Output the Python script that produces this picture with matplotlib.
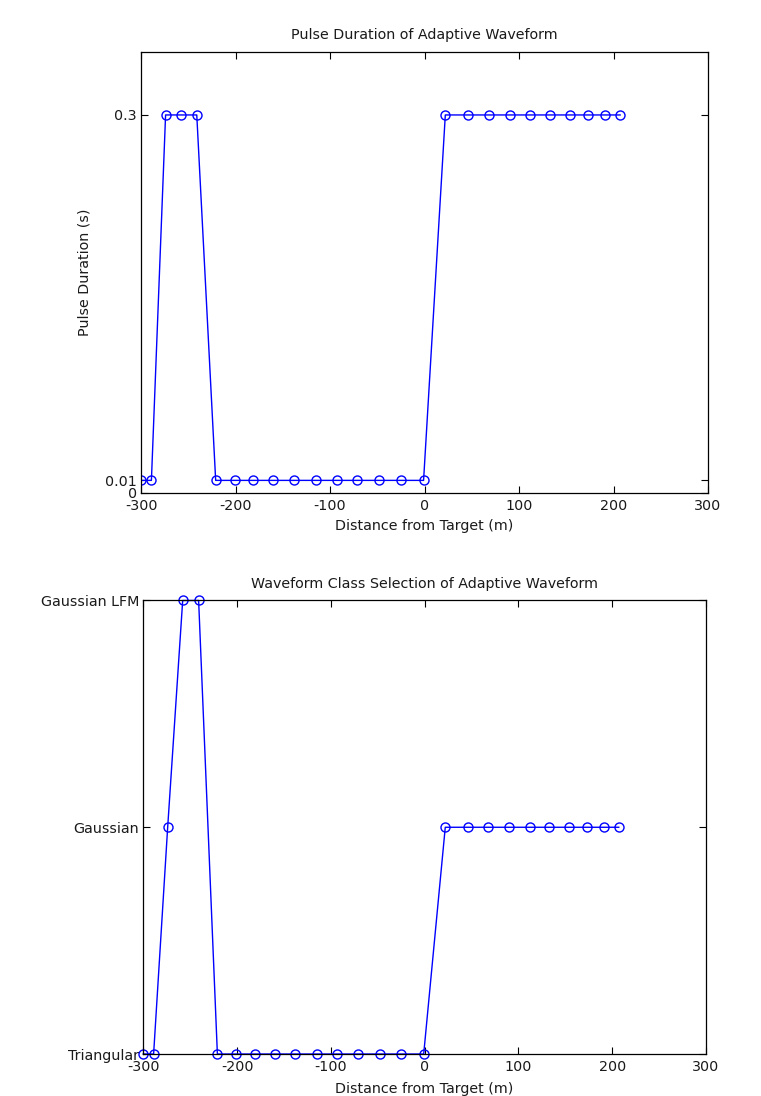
import matplotlib
matplotlib.use("Agg")
import matplotlib.pyplot as plt

plt.rcParams['font.family'] = ['DejaVu Sans']
plt.rcParams['axes.unicode_minus'] = False

# Data
distance = [-300, -289, -274, -258, -241, -221, -201, -181, -160, -138, -115,
            -93, -71, -48, -25, -1, 22, 46, 68, 90, 112, 133, 154, 173, 191, 207]
pulse_duration = [0.01, 0.01, 0.3, 0.3, 0.3, 0.01, 0.01, 0.01, 0.01, 0.01, 0.01,
                  0.01, 0.01, 0.01, 0.01, 0.01, 0.3, 0.3, 0.3, 0.3, 0.3, 0.3, 0.3, 0.3, 0.3, 0.3]
class_names = ['Triangular', 'Gaussian', 'Gaussian LFM']
waveform_class = [1, 1, 2, 3, 3, 1, 1, 1, 1, 1, 1,
                  1, 1, 1, 1, 1, 2, 2, 2, 2, 2, 2, 2, 2, 2, 2]
x_ticks = [-300, -200, -100, 0, 100, 200, 300]
pd_ticks = [0, 0.01, 0.3]
pd_ticklabels = ['0', '0.01', '0.3']

fig = plt.figure(figsize=(7.61, 10.96), dpi=100)
ax1 = fig.add_axes([0.1853, 0.5502, 0.7451, 0.4024])
ax2 = fig.add_axes([0.1883, 0.0383, 0.7394, 0.4138])

blue = (0, 0, 1)
fs = 10.3
txt = '#1a1a1a'

def style(ax):
    ax.tick_params(direction='in', top=True, right=True, length=5, width=0.8,
                   labelsize=fs, colors='black', labelcolor=txt)
    ax.tick_params(axis='x', pad=4)
    ax.tick_params(axis='y', pad=3)
    for s in ax.spines.values():
        s.set_linewidth(0.9)
        s.set_color('black')

ax1.plot(distance, pulse_duration, '-o', color=blue, lw=1.0, ms=6.5,
         mfc='none', mec=blue, mew=1.0)
ax1.set_xlim(-300, 300)
ax1.set_ylim(0, 0.35)
ax1.set_xticks(x_ticks)
ax1.set_xticklabels([str(t) for t in x_ticks])
ax1.set_yticks(pd_ticks)
ax1.set_yticklabels(pd_ticklabels)
ax1.set_xlabel('Distance from Target (m)', fontsize=fs, labelpad=5, color=txt)
ax1.set_ylabel('Pulse Duration (s)', fontsize=fs, color=txt)
ax1.yaxis.set_label_coords(-0.087, 0.5)
ax1.set_title('Pulse Duration of Adaptive Waveform', fontsize=fs, pad=9, color=txt)
style(ax1)

ax2.plot(distance, waveform_class, '-o', color=blue, lw=1.0, ms=6.5,
         mfc='none', mec=blue, mew=1.0, clip_on=False)
ax2.set_xlim(-300, 300)
ax2.set_ylim(1, 3)
ax2.set_xticks(x_ticks)
ax2.set_xticklabels([str(t) for t in x_ticks])
ax2.set_yticks([1, 2, 3])
ax2.set_yticklabels(class_names)
ax2.set_xlabel('Distance from Target (m)', fontsize=fs, labelpad=6, color=txt)
ax2.set_title('Waveform Class Selection of Adaptive Waveform', fontsize=fs, pad=9, color=txt)
style(ax2)

fig.savefig('out.png', dpi=100, facecolor='white')
